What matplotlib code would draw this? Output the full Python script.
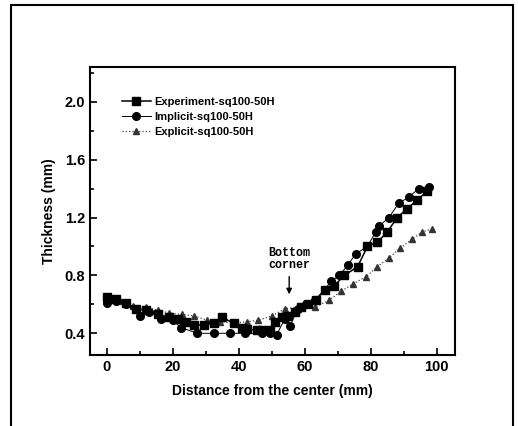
import matplotlib
matplotlib.use("Agg")
import matplotlib.pyplot as plt
from matplotlib.patches import Rectangle
from matplotlib.ticker import MultipleLocator

plt.rcParams['font.family'] = ['Liberation Sans', 'DejaVu Sans']

# Experiment-sq100-50H (squares)
exp_x = [0, 3, 6, 9, 12, 15.5, 19, 21.5, 24, 26.5, 29.5, 32.5, 35, 38.5, 41, 42.5, 45.5, 47, 49.5, 51, 53, 55, 57, 59, 61, 63.5, 66, 69, 72, 76, 79, 82, 85, 88, 91, 94, 97]
exp_y = [0.65, 0.64, 0.61, 0.57, 0.56, 0.53, 0.51, 0.50, 0.48, 0.455, 0.46, 0.47, 0.51, 0.47, 0.44, 0.43, 0.42, 0.42, 0.42, 0.48, 0.51, 0.52, 0.55, 0.58, 0.60, 0.63, 0.70, 0.73, 0.80, 0.86, 1.00, 1.03, 1.10, 1.20, 1.26, 1.32, 1.38]

# Implicit-sq100-50H (circles)
imp_x = [0, 3, 6, 10, 13, 16.5, 20, 22.5, 27.5, 32.5, 37.5, 42, 47, 49.5, 51.5, 54, 55.5, 58, 60.5, 63, 66, 68, 70.5, 73, 75.5, 79, 81.5, 82.5, 85.5, 88.5, 91.5, 94.5, 97.5]
imp_y = [0.61, 0.62, 0.60, 0.52, 0.55, 0.50, 0.49, 0.44, 0.40, 0.40, 0.40, 0.40, 0.40, 0.40, 0.39, 0.50, 0.45, 0.57, 0.60, 0.63, 0.70, 0.76, 0.80, 0.87, 0.95, 1.00, 1.10, 1.14, 1.20, 1.30, 1.34, 1.40, 1.41]

# Explicit-sq100-50H (triangles)
expl_x = [0, 4, 8, 12, 15.5, 19, 23, 26.5, 30.5, 34.5, 38.5, 42.5, 46, 50, 54, 58, 63, 67.5, 71, 74.5, 78.5, 82, 85.5, 89, 92.5, 95.5, 98.5]
expl_y = [0.63, 0.62, 0.59, 0.58, 0.56, 0.54, 0.53, 0.52, 0.49, 0.48, 0.47, 0.48, 0.49, 0.52, 0.57, 0.58, 0.58, 0.63, 0.69, 0.74, 0.79, 0.86, 0.92, 0.99, 1.05, 1.10, 1.12]

labels = ["Experiment-sq100-50H", "Implicit-sq100-50H", "Explicit-sq100-50H"]
x_ticks = [0, 20, 40, 60, 80, 100]
y_ticks = [0.4, 0.8, 1.2, 1.6, 2.0]

fig = plt.figure(figsize=(5.18, 4.26), dpi=100)
fig.patches.append(Rectangle((11/518, -0.05), (513-11)/518, 1.05 - 5/426,
                             transform=fig.transFigure, fill=False,
                             edgecolor='black', linewidth=1.5, zorder=0))

ax = fig.add_axes([90/518, 1 - 355/426, (455-90)/518, (355-67)/426])

ax.plot(exp_x, exp_y, '-', color='black', lw=1.1, marker='s', ms=5.5, label=labels[0], zorder=3)
ax.plot(imp_x, imp_y, '-', color='black', lw=0.7, marker='o', ms=5.5, label=labels[1], zorder=4)
ax.plot(expl_x, expl_y, ':', color='#444444', lw=0.9, marker='^', ms=5,
        markerfacecolor='#333333', markeredgecolor='#333333', label=labels[2], zorder=2)

ax.set_xlim(-5, 105.5)
ax.set_ylim(0.25, 2.24)
ax.set_xticks(x_ticks)
ax.set_yticks(y_ticks)
ax.set_yticklabels([f"{v:.1f}" for v in y_ticks])
ax.xaxis.set_minor_locator(MultipleLocator(10))
ax.yaxis.set_minor_locator(MultipleLocator(0.2))
ax.tick_params(which='both', direction='in', top=False, right=False, width=1.2)
ax.tick_params(which='major', length=5, labelsize=10.5)
ax.tick_params(which='minor', length=3)
for lab in ax.get_xticklabels() + ax.get_yticklabels():
    lab.set_fontweight('bold')
for s in ax.spines.values():
    s.set_linewidth(1.5)

ax.set_xlabel("Distance from the center (mm)", fontsize=10, fontweight='bold', labelpad=7)
ax.set_ylabel("Thickness (mm)", fontsize=10, fontweight='bold', labelpad=6)

leg = ax.legend(loc='upper left', bbox_to_anchor=(0.075, 0.91), frameon=False,
                prop={'weight': 'bold', 'size': 8}, handlelength=2.6,
                handletextpad=0.3, labelspacing=0.45, borderaxespad=0)

ax.annotate("Bottom\ncorner", xy=(55.3, 0.65), xytext=(55.3, 0.83),
            ha='center', va='bottom', fontsize=8.5, fontweight='bold',
            family=['Liberation Mono', 'DejaVu Sans Mono'], linespacing=1.0,
            arrowprops=dict(arrowstyle='-|>', color='black', lw=1.0, mutation_scale=8))

fig.savefig("out.png", dpi=100)
